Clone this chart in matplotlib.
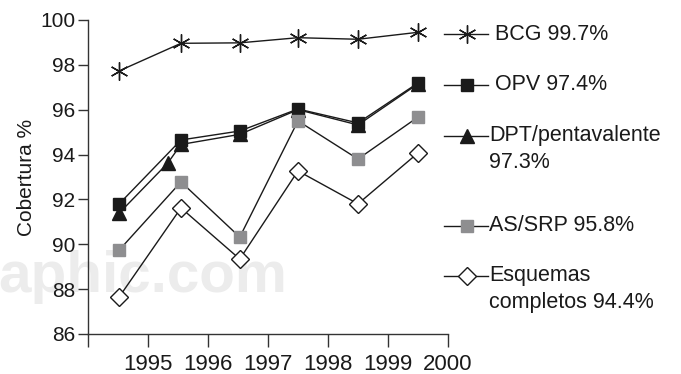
import matplotlib
matplotlib.use("Agg")
import matplotlib.pyplot as plt

plt.rcParams['font.family'] = ['Liberation Sans', 'DejaVu Sans']

# data
years = [1994.52, 1995.55, 1996.53, 1997.5, 1998.5, 1999.5]
bcg = [97.73, 98.96, 98.98, 99.21, 99.14, 99.45]
opv = [91.8, 94.65, 95.05, 96.03, 95.41, 97.19]
dpt_years = [1994.52, 1995.33, 1995.55, 1996.53, 1997.5, 1998.5, 1999.5]
dpt = [91.39, 93.62, 94.45, 94.9, 96.0, 95.32, 97.15]
srp = [89.74, 92.78, 90.32, 95.5, 93.8, 95.67]
esq = [87.65, 91.62, 89.34, 93.27, 91.8, 94.07]

labels = [' BCG 99.7%', ' OPV 97.4%', 'DPT/pentavalente\n97.3%',
          'AS/SRP 95.8%', 'Esquemas\ncompletos 94.4%']

fig = plt.figure(figsize=(6.81, 3.74), dpi=100)
ax = fig.add_axes([0.1292, 0.107, 0.5286, 0.8396])

# watermark, behind everything
fig.text(-0.002, 0.218, 'aphic.com', fontsize=42, fontweight='bold',
         color='#ececec', zorder=-1, ha='left', va='baseline')

styles = [
    dict(marker=(6, 2, 0), ms=13, mfc='k', mec='#1a1a1a', mew=1.0),
    dict(marker='s', ms=9, mfc='#1a1a1a', mec='#1a1a1a'),
    dict(marker='^', ms=10, mfc='#1a1a1a', mec='#1a1a1a'),
    dict(marker='s', ms=8.5, mfc='#8e8e90', mec='#8e8e90'),
    dict(marker='D', ms=9.5, mfc='white', mec='#1a1a1a', mew=1.0),
]
series = [(years, bcg), (years, opv), (dpt_years, dpt), (years, srp), (years, esq)]

for (xs, ys), st in zip(series, styles):
    ax.plot(xs, ys, color='#1a1a1a', lw=1.0, clip_on=False, zorder=3, **st)

ax.set_xlim(1994, 2000)
ax.set_ylim(86, 100)
ax.set_xticks(range(1994, 2001))
ax.set_xticklabels([''] + [str(y) for y in range(1995, 2001)])
ax.set_yticks(range(86, 101, 2))
ax.tick_params(axis='y', labelsize=15, length=7, width=1.0, color='#333333',
               labelcolor='#1a1a1a', pad=2)
ax.tick_params(axis='x', labelsize=16, length=9, width=1.0, color='#333333',
               labelcolor='#1a1a1a', pad=5.5)
for s in ['top', 'right']:
    ax.spines[s].set_visible(False)
for s in ['left', 'bottom']:
    ax.spines[s].set_color('#333333')
    ax.spines[s].set_linewidth(1.0)
ax.set_ylabel('Cobertura %', fontsize=15, color='#1a1a1a', labelpad=3)
ax.patch.set_alpha(0)

# legend drawn by hand to the right of the axes
leg_y = [0.955, 0.793, 0.631, 0.344, 0.185]
line_step = 27 / 314
for lab, st, yy in zip(labels, styles, leg_y):
    ax.plot([0.989, 1.111], [yy, yy], transform=ax.transAxes, clip_on=False,
            color='#1a1a1a', lw=1.0)
    ax.plot([1.053], [yy], transform=ax.transAxes, clip_on=False,
            color='#1a1a1a', lw=0, **st)
    for i, part in enumerate(lab.split('\n')):
        ax.text(1.115, yy - i * line_step, part, transform=ax.transAxes,
                fontsize=15.5, color='#1a1a1a', va='center')

fig.savefig('out.png', dpi=100)
